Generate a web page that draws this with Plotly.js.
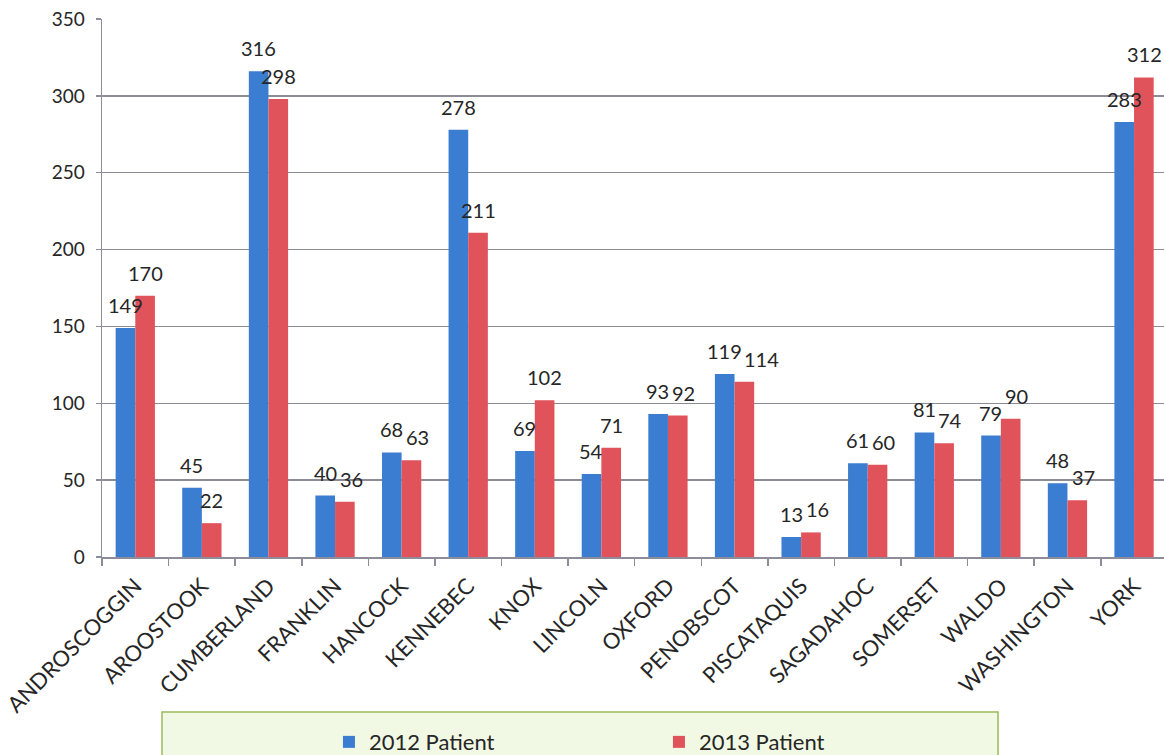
<!DOCTYPE html>
<html>
<head>
<meta charset="utf-8">
<script src="https://cdn.plot.ly/plotly-3.0.1.min.js"></script>
<style>
html,body{margin:0;padding:0;background:#fff;}
#chart{width:1164px;height:755px;}
</style>
</head>
<body>
<div id="chart"></div>
<script>
var counties = ["ANDROSCOGGIN","AROOSTOOK","CUMBERLAND","FRANKLIN","HANCOCK","KENNEBEC","KNOX","LINCOLN","OXFORD","PENOBSCOT","PISCATAQUIS","SAGADAHOC","SOMERSET","WALDO","WASHINGTON","YORK"];
var patients2012 = [149,45,316,40,68,278,69,54,93,119,13,61,81,79,48,283];
var patients2013 = [170,22,298,36,63,211,102,71,92,114,16,60,74,90,37,312];
var seriesNames = ["2012 Patient","2013 Patient"];
var yTicks = [0,50,100,150,200,250,300,350];

var FONT = "Lato, 'Open Sans', sans-serif";
var BLUE = "#3b7dd0";
var RED = "#e0535b";

function barTrace(name, vals, color){
  return {
    type: "bar",
    name: name,
    x: counties,
    y: vals,
    marker: {color: color, line: {width: 0}},
    hoverinfo: "x+y+name"
  };
}

var data = [
  barTrace(seriesNames[0], patients2012, BLUE),
  barTrace(seriesNames[1], patients2013, RED)
];

// value labels, placed through the axes from the same arrays;
// the 2013 label is nudged right when it would collide with the 2012 label
var annotations = [];
var PX_PER_UNIT = 538 / 350;
var DIGIT_W = 11;
var LABEL_H = 20;
counties.forEach(function(c, i){
  var a = patients2012[i], b = patients2013[i];
  var wa = String(a).length * DIGIT_W, wb = String(b).length * DIGIT_W;
  var extra = 0;
  if (Math.abs(a - b) * PX_PER_UNIT < LABEL_H) {
    var need = (wa + wb) / 2 + 4;
    extra = Math.max(0, need - 20);
  }
  var font = {family: FONT, size: 20, color: "#262626"};
  annotations.push({x: c, y: a, xref: "x", yref: "y", text: String(a), showarrow: false,
    xshift: -10, yshift: 9, yanchor: "bottom", xanchor: "center", font: font});
  annotations.push({x: c, y: b, xref: "x", yref: "y", text: String(b), showarrow: false,
    xshift: 10 + extra, yshift: 9, yanchor: "bottom", xanchor: "center", font: font});
});

var layout = {
  width: 1164,
  height: 755,
  margin: {l: 102, r: 0, t: 19, b: 198, pad: 0, autoexpand: false},
  paper_bgcolor: "#ffffff",
  plot_bgcolor: "#ffffff",
  barmode: "group",
  bargap: 0.41,
  bargroupgap: 0,
  font: {family: FONT, color: "#262626"},
  showlegend: true,
  xaxis: {
    type: "category",
    range: [-0.5, 15.45],
    tickangle: -45,
    tickfont: {family: FONT, size: 22, color: "#262626"},
    ticklabelstandoff: 6,
    showline: true,
    linecolor: "#8c8c9a",
    linewidth: 1.5,
    ticks: "outside",
    tickson: "boundaries",
    ticklen: 7,
    tickcolor: "#8c8c9a",
    tickwidth: 1.5,
    showgrid: false,
    zeroline: false,
    automargin: false
  },
  yaxis: {
    range: [0, 350],
    tickvals: yTicks,
    ticktext: yTicks.map(String),
    tickfont: {family: FONT, size: 19, color: "#262626"},
    ticklabelstandoff: 7,
    showline: true,
    linecolor: "#8c8c9a",
    linewidth: 1.5,
    ticks: "outside",
    ticklen: 5,
    tickcolor: "#8c8c9a",
    tickwidth: 1.5,
    showgrid: true,
    gridcolor: "#8c8c96",
    gridwidth: 1.5,
    zeroline: false,
    automargin: false
  },
  annotations: annotations,
  shapes: [{
    type: "rect",
    xref: "paper", yref: "paper",
    x0: 0.0565, x1: 0.8437,
    y0: -0.40, y1: -0.2883,
    fillcolor: "#f1f9e4",
    line: {color: "#9bbb59", width: 1.5},
    layer: "below"
  }],
  legend: {
    orientation: "h",
    x: 0.2137,
    xanchor: "left",
    y: -0.344,
    yanchor: "middle",
    bgcolor: "rgba(0,0,0,0)",
    borderwidth: 0,
    entrywidthmode: "pixels",
    entrywidth: 285,
    font: {family: FONT, size: 22, color: "#262626"},
    traceorder: "normal"
  }
};

Plotly.newPlot("chart", data, layout, {displayModeBar: false, staticPlot: true});
</script>
</body>
</html>
